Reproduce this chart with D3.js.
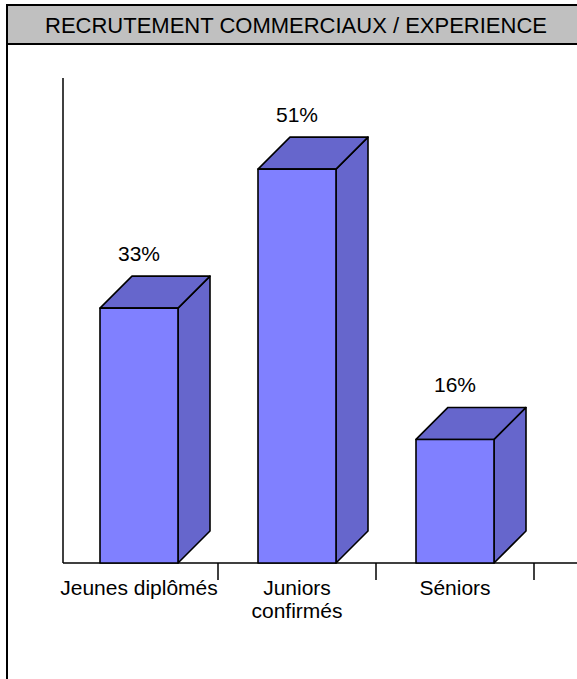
<!DOCTYPE html>
<html><head><meta charset="utf-8">
<script src="https://cdn.jsdelivr.net/npm/d3@7"></script>
<style>body{margin:0;background:#fff}svg{display:block}text{font-family:"Liberation Sans",Arial,sans-serif;fill:#000}</style>
</head><body>
<svg id="c" width="577" height="679"></svg>
<script>
const title = "RECRUTEMENT COMMERCIAUX / EXPERIENCE";
const categories = ["Jeunes diplômés", "Juniors confirmés", "Séniors", ""];
const labelLines = [["Jeunes diplômés"], ["Juniors", "confirmés"], ["Séniors"], []];
const values = [33, 51, 16];
const valueLabels = ["33%", "51%", "16%"];

const svg = d3.select("#c");
const W = 577, H = 679;
const depth = 32;

// frame + title
svg.append("rect").attr("x", 7).attr("y", 5).attr("width", 600).attr("height", 39).attr("fill", "#c0c0c0");
svg.append("line").attr("x1", 6).attr("x2", W).attr("y1", 5).attr("y2", 5).attr("stroke", "#000").attr("stroke-width", 2);
svg.append("line").attr("x1", 6).attr("x2", W).attr("y1", 44).attr("y2", 44).attr("stroke", "#000").attr("stroke-width", 2);
svg.append("line").attr("x1", 7).attr("x2", 7).attr("y1", 4).attr("y2", H).attr("stroke", "#000").attr("stroke-width", 2);
svg.append("text").attr("x", 296).attr("y", 33).attr("text-anchor", "middle").attr("font-size", 22).text(title);

const x = d3.scaleBand().domain(categories).range([60, 692]).paddingInner(0).paddingOuter(0);
const y = d3.scaleLinear().domain([0, 62.8]).range([563, 78]);
const bw = 78;

// axes
svg.append("line").attr("x1", 63).attr("x2", 63).attr("y1", y.range()[1]).attr("y2", y(0)).attr("stroke", "#000").attr("stroke-width", 1.5);
svg.append("line").attr("x1", 63).attr("x2", W).attr("y1", y(0)).attr("y2", y(0)).attr("stroke", "#000").attr("stroke-width", 1.5);
categories.slice(0, 3).forEach(c => {
  const tx = x(c) + x.bandwidth();
  svg.append("line").attr("x1", tx).attr("x2", tx).attr("y1", y(0)).attr("y2", y(0) + 17).attr("stroke", "#000").attr("stroke-width", 1.5);
});

// bars
values.forEach((v, i) => {
  const c = categories[i];
  const x0 = x(c) + (x.bandwidth() - bw) / 2, x1 = x0 + bw;
  const yt = y(v), yb = y(0);
  const g = svg.append("g").attr("stroke", "#000").attr("stroke-width", 1.6).attr("stroke-linejoin", "round");
  g.append("path").attr("fill", "#6666cc")
    .attr("d", `M${x1},${yb}L${x1 + depth},${yb - depth}L${x1 + depth},${yt - depth}L${x1},${yt}Z`);
  g.append("path").attr("fill", "#6666cc")
    .attr("d", `M${x0},${yt}L${x0 + depth},${yt - depth}L${x1 + depth},${yt - depth}L${x1},${yt}Z`);
  g.append("rect").attr("x", x0).attr("y", yt).attr("width", bw).attr("height", yb - yt).attr("fill", "#8080ff");
  svg.append("text").attr("x", x0 + bw / 2).attr("y", yt - depth - 15).attr("text-anchor", "middle").attr("font-size", 21).text(valueLabels[i]);
});

// category labels
labelLines.forEach((lines, i) => {
  const cx = x(categories[i]) + x.bandwidth() / 2;
  lines.forEach((l, j) => {
    svg.append("text").attr("x", cx).attr("y", 595 + j * 23).attr("text-anchor", "middle").attr("font-size", 21).text(l);
  });
});
</script>
</body></html>
